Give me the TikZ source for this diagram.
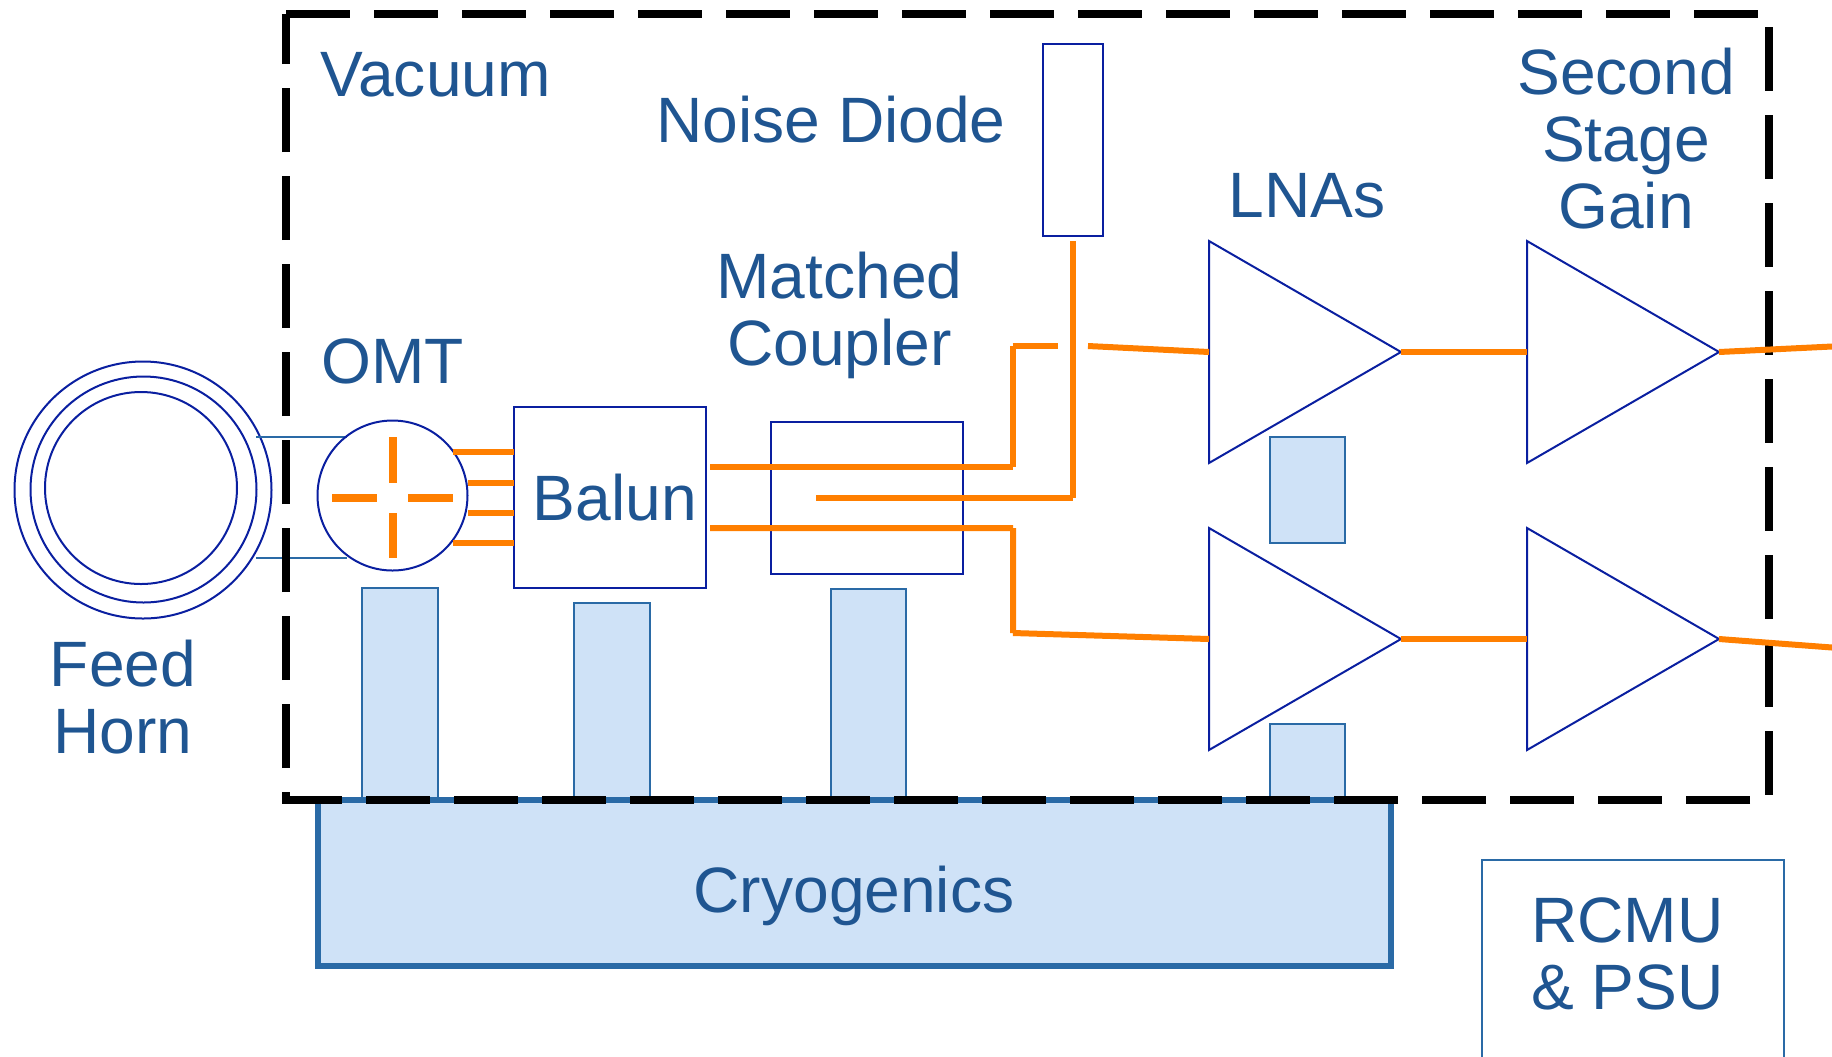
\documentclass[tikz,border=0pt]{standalone}
\usepackage{fontspec}
\setmainfont{Liberation Sans}
\usetikzlibrary{positioning,calc}
\newcommand{\pxu}{0.02cm}
\definecolor{textblue}{HTML}{1F5591}
\definecolor{boxblue}{HTML}{0A1FA0}
\definecolor{edgeblue}{HTML}{2A6AA6}
\definecolor{fillblue}{HTML}{CFE2F7}
\definecolor{sigorange}{HTML}{FF7F00}
\tikzset{
    label/.style={text=textblue,anchor=base,align=center,inner sep=0pt,font=\fontsize{36.5}{38}\selectfont},
    bluebox/.style={draw=boxblue,line width=2*\pxu,inner sep=0pt,outer sep=0pt},
    coldbox/.style={draw=edgeblue,fill=fillblue,line width=2*\pxu,inner sep=0pt,outer sep=0pt},
    sigline/.style={draw=sigorange,line width=6*\pxu},
    crossline/.style={draw=sigorange,line width=8*\pxu},
    stubline/.style={draw=sigorange,line width=6.5*\pxu},
}
\begin{document}
\begin{tikzpicture}[x=\pxu,y=-\pxu]
    \useasboundingbox (0,0) rectangle (1832,1056);
    \clip (0,0) rectangle (1832,1056);

    % Cold straps and cryostat
    \foreach \name/\xa/\ya/\wid/\hgt in {strapomt/400/694/75.5/212, strapbalun/612/701.5/75.5/197,
        strapcoupler/868.5/694.5/75/211, straplnaA/1307.5/490/75/106, straplnaB/1307.5/762/75/76} {
        \node[coldbox,minimum width=\wid*\pxu,minimum height=\hgt*\pxu] (\name) at (\xa,\ya) {};
    }
    \node[coldbox,draw=edgeblue,line width=6*\pxu,minimum width=1073*\pxu,minimum height=166*\pxu] (cryo) at (854.5,883) {};
    \node[label] (cryolabel) at (854,912) {Cryogenics};

    % Feed horn rings
    \node[bluebox,circle,minimum size=257*\pxu] (hornouter) at (143,490) {};
    \node[bluebox,circle,minimum size=226*\pxu] (hornmiddle) at (143.5,489.5) {};
    \node[bluebox,circle,minimum size=192*\pxu] (horninner) at (141,488) {};
    \node[label] (hornlabel) at (123,753) {Feed\\Horn};

    % Horn to OMT
    \coordinate (linkAa) at (256,437);
    \coordinate (linkAb) at (347,437);
    \coordinate (linkBa) at (256,558);
    \coordinate (linkBb) at (347,558);
    \draw[edgeblue,line width=2*\pxu] (linkAa) -- (linkAb);
    \draw[edgeblue,line width=2*\pxu] (linkBa) -- (linkBb);

    % Vacuum boundary
    \coordinate (vacTL) at (286,14);
    \coordinate (vacTR) at (1769,14);
    \coordinate (vacBR) at (1769,800);
    \coordinate (vacBL) at (286,800);
    \draw[black,line width=8*\pxu,dash pattern=on 64*\pxu off 24*\pxu] (vacTL) -- (vacTR) -- (vacBR) -- (vacBL) -- cycle;
    \node[label] (vaclabel) at (435.5,96) {Vacuum};

    % OMT
    \node[bluebox,circle,minimum size=150*\pxu] (omt) at (392.5,495.5) {};
    \node[label] (omtlabel) at (392.5,383) {OMT};
    \foreach \xa/\ya/\xb/\yb in {392.5/437/392.5/483, 392.5/513/392.5/558, 332/498/377/498, 408/498/453/498} {
        \draw[crossline] (\xa,\ya) -- (\xb,\yb);
    }

    % Balun and coupler
    \node[bluebox,minimum width=192*\pxu,minimum height=181*\pxu] (balun) at (610,497.5) {};
    \node[label] (balunlabel) at (615,520) {Balun};
    \node[bluebox,minimum width=192*\pxu,minimum height=152*\pxu] (coupler) at (867,498) {};
    \node[label] (couplerlabel) at (839.5,365) {Matched\\Coupler};
    \foreach \xa/\ya in {453/452, 468/483, 468/513, 453/543} {
        \draw[stubline] (\xa,\ya) -- (balun.west |- 0,\ya);
    }

    % Noise diode
    \node[bluebox,minimum width=60*\pxu,minimum height=192*\pxu] (diode) at (1073,140) {};
    \node[label] (diodelabel) at (831,142) {Noise Diode};

    % Amplifiers
    \foreach \name/\xa/\ya in {lnaA/1209/241, lnaB/1209/528, gainA/1527/241, gainB/1527/528} {
        \draw[boxblue,line width=2*\pxu] (\xa,\ya) -- (\xa+192,\ya+111) coordinate (\name-out) -- (\xa,\ya+222) -- cycle;
        \coordinate (\name-in) at (\xa,\ya+111);
    }
    \node[label] (lnalabel) at (1307,217) {LNAs};
    \node[label] (gainlabel) at (1626,228) {Second\\Stage\\Gain};

    % Signal paths
    \coordinate (upperstart) at (710,467);
    \coordinate (upperbendA) at (1012.5,467);
    \coordinate (upperbendB) at (1012.5,346);
    \coordinate (uppergapA) at (1058,346);
    \coordinate (uppergapB) at (1088,346);
    \coordinate (lowerstart) at (710,528);
    \coordinate (lowerbendA) at (1013,528);
    \coordinate (lowerbendB) at (1013,633);
    \coordinate (diodestart) at (816,498);
    \coordinate (diodebend) at (1073,498);
    \coordinate (diodeend) at (1073,241);
    \coordinate (outA) at (1832,346.5);
    \coordinate (outB) at (1832,647.5);
    \draw[sigline] (upperstart) -- (upperbendA) (upperbendA) -- (upperbendB) (upperbendB) -- (uppergapA);
    \draw[sigline] (uppergapB) -- (lnaA-in);
    \draw[sigline] (lowerstart) -- (lowerbendA) (lowerbendA) -- (lowerbendB) (lowerbendB) -- (lnaB-in);
    \draw[sigline] (diodestart) -- (diodebend) (diodebend) -- (diodeend);
    \foreach \row in {A,B} {
        \draw[sigline] (lna\row-out) -- (gain\row-in);
        \draw[sigline] (gain\row-out) -- (out\row);
    }

    % Monitor unit
    \node[bluebox,draw=edgeblue,minimum width=302*\pxu,minimum height=220*\pxu] (rcmu) at (1632.5,970) {};
    \node[label] (rcmulabel) at (1627.5,1009) {RCMU\\\& PSU};
\end{tikzpicture}
\end{document}
